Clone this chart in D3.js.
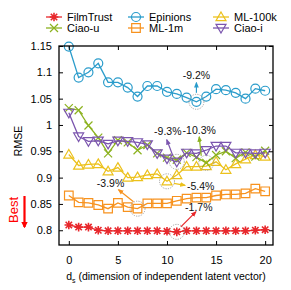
<!DOCTYPE html>
<html lang="en">
<head>
<meta charset="UTF-8">
<title>RMSE vs ds</title>
<script src="https://d3js.org/d3.v7.min.js"></script>
<style>
    body { margin: 0; background: #fff; }
    svg text { font-family: "Liberation Sans", Arial, sans-serif; }
</style>
</head>
<body>
<div id="chart"></div>
<script>
    // data
    let dims = [0, 1, 2, 3, 4, 5, 6, 7, 8, 9, 10, 11, 12, 13, 14, 15, 16, 17, 18, 19, 20];
    let filmTrust = [0.810, 0.806, 0.806, 0.800, 0.799, 0.799, 0.799, 0.799, 0.799, 0.799, 0.798, 0.797, 0.799, 0.799, 0.799, 0.799, 0.799, 0.799, 0.799, 0.800, 0.801];
    let epinions = [1.149, 1.090, 1.100, 1.117, 1.081, 1.081, 1.071, 1.054, 1.074, 1.074, 1.063, 1.059, 1.052, 1.044, 1.054, 1.068, 1.066, 1.061, 1.050, 1.069, 1.065];
    let ml100k = [0.944, 0.923, 0.925, 0.926, 0.912, 0.919, 0.900, 0.901, 0.905, 0.907, 0.893, 0.905, 0.921, 0.921, 0.922, 0.930, 0.915, 0.926, 0.935, 0.943, 0.940];
    let ciaoU = [1.032, 1.028, 0.999, 0.976, 0.946, 0.971, 0.967, 0.952, 0.962, 0.946, 0.938, 0.934, 0.947, 0.939, 0.928, 0.943, 0.950, 0.937, 0.948, 0.940, 0.951];
    let ml1m = [0.866, 0.853, 0.852, 0.848, 0.841, 0.852, 0.844, 0.841, 0.851, 0.851, 0.851, 0.856, 0.860, 0.862, 0.862, 0.866, 0.868, 0.868, 0.870, 0.879, 0.874];
    let ciaoI = [1.023, 0.978, 0.969, 0.970, 0.964, 0.970, 0.969, 0.967, 0.963, 0.946, 0.936, 0.930, 0.947, 0.946, 0.952, 0.960, 0.960, 0.947, 0.947, 0.946, 0.947];

    let xTicks = [0, 5, 10, 15, 20];
    let yTicks = [0.8, 0.85, 0.9, 0.95, 1, 1.05, 1.1, 1.15];

    let series = [
        {name: "FilmTrust", values: filmTrust, color: "#e8282c", shape: "star", best: 11, label: "-1.7%"},
        {name: "Ciao-u", values: ciaoU, color: "#8cb21f", shape: "x", best: 14, label: "-10.3%"},
        {name: "Epinions", values: epinions, color: "#2a9ccb", shape: "circle", best: 13, label: "-9.2%"},
        {name: "ML-1m", values: ml1m, color: "#f7921e", shape: "square", best: 7, label: "-3.9%"},
        {name: "ML-100k", values: ml100k, color: "#ecc11c", shape: "tri", best: 10, label: "-5.4%"},
        {name: "Ciao-i", values: ciaoI, color: "#7b55ae", shape: "tridown", best: 11, label: "-9.3%"}
    ];

    // arrow tail / head and label position, offsets from the marked point
    let notes = {
        "Epinions": {t: [0, -9], h: [0, -19], txt: [0, -23], anchor: "middle"},
        "Ciao-i": {t: [-4, -6], h: [-10, -22], txt: [-9, -27], anchor: "middle"},
        "Ciao-u": {t: [-5, -7], h: [-7, -26], txt: [-7, -29], anchor: "middle"},
        "ML-100k": {t: [7, 2], h: [18, 4], txt: [20, 9], anchor: "start"},
        "ML-1m": {t: [-4, -7], h: [-19, -19], txt: [-27, -22], anchor: "middle"},
        "FilmTrust": {t: [4, -5], h: [19, -20], txt: [22, -21], anchor: "middle"}
    };

    let W = 291, H = 290;
    let margin = {left: 59, right: 273, top: 46, bottom: 245};

    let svg = d3.select("#chart").append("svg")
        .attr("width", W)
        .attr("height", H);

    let x = d3.scaleLinear().domain([-1, 20.8]).range([margin.left, margin.right]);
    let y = d3.scaleLinear().domain([0.772, 1.15]).range([margin.bottom, margin.top]);

    function markerPath(shape) {
        switch (shape) {
            case "circle":
                return "M4.5,0A4.5,4.5 0 1,1 -4.5,0A4.5,4.5 0 1,1 4.5,0Z";
            case "square":
                return "M-4.3,-4.3H4.3V4.3H-4.3Z";
            case "tri":
                return "M0,-5L5,3.6H-5Z";
            case "tridown":
                return "M0,5L5,-3.6H-5Z";
            case "x":
                return "M-4,-4L4,4M-4,4L4,-4";
            case "star":
                return "M-4.3,0H4.3M0,-4.3V4.3M-3.2,-3.2L3.2,3.2M-3.2,3.2L3.2,-3.2";
        }
    }

    // arrowheads
    let defs = svg.append("defs");
    series.forEach((s, i) => {
        defs.append("marker")
            .attr("id", "ah" + i)
            .attr("viewBox", "0 0 10 10")
            .attr("refX", 8).attr("refY", 5)
            .attr("markerWidth", 5).attr("markerHeight", 5)
            .attr("orient", "auto")
            .append("path")
            .attr("d", "M0,1L10,5L0,9Z")
            .attr("fill", s.color);
    });

    // series lines + markers
    let line = d3.line().x((d, i) => x(dims[i])).y(d => y(d));
    let drawOrder = [2, 3, 4, 1, 5, 0];
    drawOrder.forEach(k => {
        let s = series[k];
        let g = svg.append("g");
        g.append("path")
            .attr("d", line(s.values))
            .attr("fill", "none")
            .attr("stroke", s.color)
            .attr("stroke-width", 1.3);
        g.selectAll("path.pt")
            .data(s.values)
            .enter()
            .append("path")
            .attr("class", "pt")
            .attr("transform", (d, i) => `translate(${x(dims[i])},${y(d)})`)
            .attr("d", markerPath(s.shape))
            .attr("fill", "none")
            .attr("stroke", s.color)
            .attr("stroke-width", s.shape === "star" ? 1.6 : 1.2);
    });

    // best points: dotted circle, arrow, percentage
    series.forEach((s, i) => {
        let px = x(dims[s.best]), py = y(s.values[s.best]);
        let n = notes[s.name];
        svg.append("circle")
            .attr("cx", px).attr("cy", py).attr("r", 7.5)
            .attr("fill", "none")
            .attr("stroke", "#9a9a9a")
            .attr("stroke-width", 0.9)
            .attr("stroke-dasharray", "1.2,1.2");
        svg.append("line")
            .attr("x1", px + n.t[0]).attr("y1", py + n.t[1])
            .attr("x2", px + n.h[0]).attr("y2", py + n.h[1])
            .attr("stroke", s.color)
            .attr("stroke-width", 1.2)
            .attr("marker-end", `url(#ah${i})`);
        svg.append("text")
            .attr("x", px + n.txt[0]).attr("y", py + n.txt[1])
            .attr("text-anchor", n.anchor)
            .attr("font-size", "10.5px")
            .attr("fill", "#111")
            .text(s.label);
    });

    // frame
    svg.append("rect")
        .attr("x", margin.left).attr("y", margin.top)
        .attr("width", margin.right - margin.left).attr("height", margin.bottom - margin.top)
        .attr("fill", "none")
        .attr("stroke", "#000")
        .attr("stroke-width", 1.3);

    // axes with inward ticks, mirrored
    let fmt = d => String(+d.toFixed(2));
    let axB = svg.append("g").attr("transform", `translate(0,${margin.bottom})`)
        .call(d3.axisBottom(x).tickValues(xTicks).tickSize(-4).tickPadding(11).tickFormat(d3.format("d")));
    let axT = svg.append("g").attr("transform", `translate(0,${margin.top})`)
        .call(d3.axisTop(x).tickValues(xTicks).tickSize(-4).tickFormat(""));
    let axL = svg.append("g").attr("transform", `translate(${margin.left},0)`)
        .call(d3.axisLeft(y).tickValues(yTicks).tickSize(-4).tickPadding(7).tickFormat(fmt));
    let axR = svg.append("g").attr("transform", `translate(${margin.right},0)`)
        .call(d3.axisRight(y).tickValues(yTicks).tickSize(-4).tickFormat(""));
    [axB, axT, axL, axR].forEach(a => {
        a.select(".domain").remove();
        a.selectAll("line").attr("stroke", "#000").attr("stroke-width", 1);
        a.selectAll("text").attr("font-size", "11px").attr("fill", "#000")
            .style("font-family", "'Liberation Sans', Arial, sans-serif");
    });

    // axis titles
    let xl = svg.append("text")
        .attr("x", 166).attr("y", 280)
        .attr("text-anchor", "middle")
        .attr("font-size", "10.5px");
    xl.append("tspan").text("d");
    xl.append("tspan").attr("dy", 2.5).attr("font-size", "7px").text("s");
    xl.append("tspan").attr("dy", -2.5).text(" (dimension of independent latent vector)");

    svg.append("text")
        .attr("transform", "translate(22,141) rotate(-90)")
        .attr("text-anchor", "middle")
        .attr("font-size", "10.5px")
        .text("RMSE");

    // "Best" hint
    svg.append("text")
        .attr("transform", "translate(18,210) rotate(-90)")
        .attr("text-anchor", "middle")
        .attr("font-size", "13px")
        .attr("fill", "#ff0000")
        .text("Best");
    defs.append("marker")
        .attr("id", "bestHead")
        .attr("viewBox", "0 0 10 10")
        .attr("refX", 8).attr("refY", 5)
        .attr("markerWidth", 3).attr("markerHeight", 3)
        .attr("orient", "auto")
        .append("path").attr("d", "M0,0L10,5L0,10Z").attr("fill", "#ff0000");
    svg.append("line")
        .attr("x1", 24.5).attr("y1", 196)
        .attr("x2", 24.5).attr("y2", 227)
        .attr("stroke", "#ff0000")
        .attr("stroke-width", 2.2)
        .attr("marker-end", "url(#bestHead)");

    // legend
    let legendCols = [46, 128, 213];
    let legendRows = [17, 28];
    let legendOrder = [0, 2, 4, 1, 3, 5];
    legendOrder.forEach((k, j) => {
        let s = series[k];
        let lx = legendCols[j % 3], ly = legendRows[Math.floor(j / 3)];
        let g = svg.append("g").attr("transform", `translate(${lx},${ly})`);
        g.append("line").attr("x1", 0).attr("x2", 16).attr("y1", 0).attr("y2", 0)
            .attr("stroke", s.color).attr("stroke-width", 1.3);
        g.append("path").attr("transform", "translate(8,0)")
            .attr("d", markerPath(s.shape))
            .attr("fill", "none").attr("stroke", s.color)
            .attr("stroke-width", s.shape === "star" ? 1.6 : 1.2);
        g.append("text").attr("x", 21).attr("y", 4)
            .attr("font-size", "11px")
            .text(s.name);
    });
</script>
</body>
</html>
